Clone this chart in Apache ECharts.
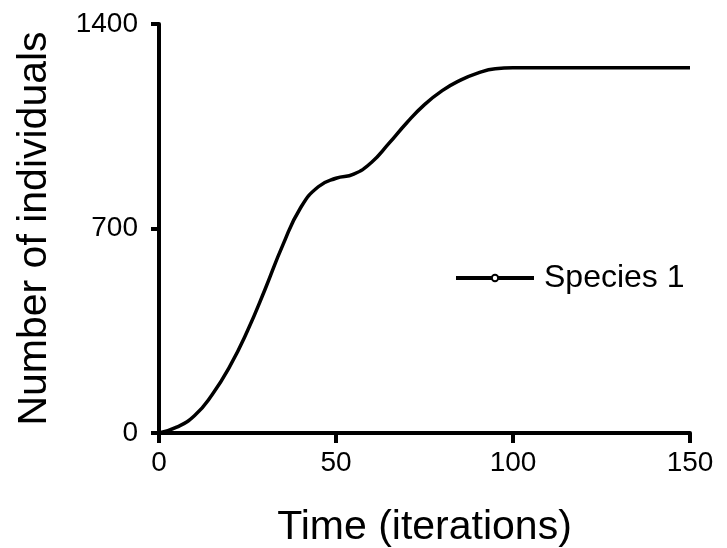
<!DOCTYPE html>
<html>
<head>
<meta charset="utf-8">
<script src="https://cdn.jsdelivr.net/npm/echarts@6/dist/echarts.min.js"></script>
<style>html,body{margin:0;padding:0;background:#fff}#c{width:727px;height:548px}</style>
</head>
<body>
<div id="c"></div>
<script>
const seriesName = 'Species 1';
const xTicks = [0, 50, 100, 150];
const yTicks = [0, 700, 1400];
const timeValues = [0,5,10,15,20,25,30,35,40,45,50,55,60,65,70,75,80,85,90,95,100,105,110,115,120,125,130,135,140,145,150];
const individuals = [0,20,59,131,228,350,493,644,771,843,872,886,926,992,1062,1124,1172,1207,1232,1247,1250,1250,1250,1250,1250,1250,1250,1250,1250,1250,1250];

const font = 'Liberation Sans, Arial, Helvetica, sans-serif';
const chart = echarts.init(document.getElementById('c'));
chart.setOption({
  animation: false,
  backgroundColor: '#fff',
  grid: { left: 159, right: 37, top: 24, bottom: 115, containLabel: false, outerBoundsMode: 'none' },
  legend: {
    data: [seriesName],
    left: 449, top: 257,
    itemWidth: 78, itemHeight: 8, itemGap: 10,
    lineStyle: { width: 4 },
    textStyle: { fontFamily: font, fontSize: 32, color: '#000', padding: [0, 0, 0, 5] }
  },
  xAxis: {
    type: 'value', min: xTicks[0], max: xTicks[xTicks.length-1], interval: 50,
    name: 'Time (iterations)', nameLocation: 'middle', nameGap: 74,
    nameTextStyle: { fontFamily: font, fontSize: 41, color: '#000' },
    axisLine: { show: true, onZero: false, lineStyle: { color: '#000', width: 4 } },
    axisTick: { show: true, inside: false, length: 10, lineStyle: { color: '#000', width: 4 } },
    axisLabel: { fontFamily: font, fontSize: 28, color: '#000', margin: 16, formatter: v => String(v) },
    splitLine: { show: false }
  },
  yAxis: {
    type: 'value', min: yTicks[0], max: yTicks[yTicks.length-1], interval: 700,
    name: 'Number of individuals', nameLocation: 'middle', nameGap: 104,
    nameTextStyle: { fontFamily: font, fontSize: 41, color: '#000' },
    axisLine: { show: true, lineStyle: { color: '#000', width: 4 } },
    axisTick: { show: true, length: 8, lineStyle: { color: '#000', width: 4 } },
    axisLabel: { fontFamily: font, fontSize: 28, color: '#000', margin: 21, formatter: v => String(v) },
    splitLine: { show: false }
  },
  series: [{
    name: seriesName,
    type: 'line',
    data: timeValues.map((t, i) => [t, individuals[i]]),
    smooth: 0.5,
    symbol: 'emptyCircle',
    symbolSize: 5,
    showSymbol: false,
    itemStyle: { color: '#000', borderColor: '#000' },
    lineStyle: { color: '#000', width: 3.5 }
  }]
});
</script>
</body>
</html>
